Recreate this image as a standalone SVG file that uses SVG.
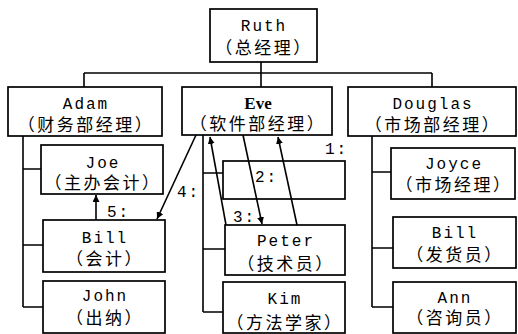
<svg xmlns="http://www.w3.org/2000/svg" width="518" height="334" viewBox="0 0 518 334">
<style>
.box{fill:#fff;stroke:#000;stroke-width:1.7}
.ln{fill:none;stroke:#000;stroke-width:1.6}
.t{font-family:"Liberation Mono","Noto Sans CJK SC",monospace;font-size:16px;letter-spacing:2px;text-anchor:middle;fill:#000}
.c{font-family:"Liberation Mono","Noto Sans CJK SC",sans-serif;font-size:17px;letter-spacing:2.5px;text-anchor:middle;fill:#000}
.b{font-family:"Liberation Serif","Noto Sans CJK SC",serif;font-size:17px;font-weight:bold;text-anchor:middle;fill:#000}
.lbl{font-family:"Liberation Mono",monospace;font-size:16px;letter-spacing:2px;fill:#000}
</style>
<defs>
<marker id="ah" viewBox="0 0 10 10" refX="10" refY="5" markerWidth="7" markerHeight="7" markerUnits="userSpaceOnUse" orient="auto">
<path d="M0,0 L10,5 L0,10 z" fill="#000"/>
</marker>
</defs>
<g id="ruth"><rect class="box" x="210" y="9" width="107" height="53"/><text class="t" x="264" y="31">Ruth</text><text class="c" x="264" y="54">（总经理）</text></g>
<g id="adam"><rect class="box" x="8" y="87" width="154" height="49"/><text class="t" x="86" y="109">Adam</text><text class="c" x="86" y="131">（财务部经理）</text></g>
<g id="eve"><rect class="box" x="182" y="87" width="150" height="48"/><text class="b" x="258" y="109">Eve</text><text class="c" x="258" y="130">（软件部经理）</text></g>
<g id="douglas"><rect class="box" x="348" y="87" width="168" height="49"/><text class="t" x="433" y="109">Douglas</text><text class="c" x="433" y="131">（市场部经理）</text></g>
<g id="joe"><rect class="box" x="41" y="145" width="122" height="49"/><text class="t" x="103" y="168">Joe</text><text class="c" x="103" y="189">（主办会计）</text></g>
<g id="bill-a"><rect class="box" x="43" y="220" width="122" height="52"/><text class="t" x="105" y="243">Bill</text><text class="c" x="105" y="265">（会计）</text></g>
<g id="john"><rect class="box" x="43" y="281" width="122" height="52"/><text class="t" x="105" y="301">John</text><text class="c" x="105" y="324">（出纳）</text></g>
<g id="box2"><rect class="box" x="223" y="161" width="122" height="38"/></g>
<g id="peter"><rect class="box" x="225" y="225" width="120" height="50"/><text class="t" x="286" y="246">Peter</text><text class="c" x="286" y="270">（技术员）</text></g>
<g id="kim"><rect class="box" x="223" y="282" width="122" height="51"/><text class="t" x="285" y="304">Kim</text><text class="c" x="285" y="329">（方法学家）</text></g>
<g id="joyce"><rect class="box" x="391" y="148" width="124" height="51"/><text class="t" x="454" y="169">Joyce</text><text class="c" x="454" y="191">（市场经理）</text></g>
<g id="bill-d"><rect class="box" x="393" y="217" width="123" height="51"/><text class="t" x="455" y="238">Bill</text><text class="c" x="455" y="261">（发货员）</text></g>
<g id="ann"><rect class="box" x="393" y="282" width="123" height="51"/><text class="t" x="455" y="303">Ann</text><text class="c" x="455" y="324">（咨询员）</text></g>
<g id="connectors">
<path class="ln" d="M261,62 V87 M84,73 H432 M84,73 V87 M432,73 V87"/>
<path class="ln" d="M23,136 V307 M23,169 H41 M23,245 H43 M23,307 H43"/>
<path class="ln" d="M203,135 V312 M203,173 H223 M203,249 H225 M203,312 H223"/>
<path class="ln" d="M372,136 V307 M372,172 H391 M372,248 H393 M372,307 H393"/>
<line class="ln" x1="297" y1="225" x2="278" y2="137" marker-end="url(#ah)"/>
<line class="ln" x1="226" y1="225" x2="210" y2="137" marker-end="url(#ah)"/>
<line class="ln" x1="243" y1="135" x2="262" y2="224" marker-end="url(#ah)"/>
<line class="ln" x1="196" y1="135" x2="157" y2="219" marker-end="url(#ah)"/>
<line class="ln" x1="96" y1="220" x2="96" y2="195" marker-end="url(#ah)"/>
<text class="lbl" x="325" y="154">1:</text>
<text class="lbl" x="255" y="182">2:</text>
<text class="lbl" x="233" y="222">3:</text>
<text class="lbl" x="177" y="197">4:</text>
<text class="lbl" x="107" y="217">5:</text>
</g>
</svg>
